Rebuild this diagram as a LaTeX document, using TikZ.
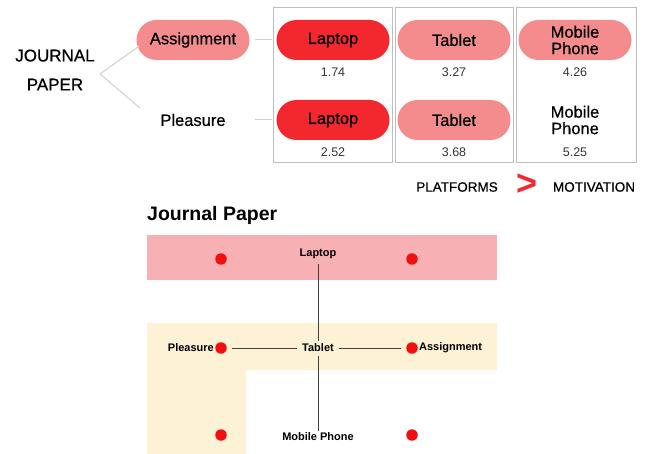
\documentclass[tikz,border=0pt]{standalone}
\usepackage{fontspec}
\setmainfont{Liberation Sans}
\newfontfamily\medfont[FakeBold=0.6]{Liberation Sans}
\definecolor{pillred}{HTML}{F2282E}
\definecolor{pillpink}{HTML}{F48C8E}
\definecolor{bandpink}{HTML}{F7B0B3}
\definecolor{bandyellow}{HTML}{FDF1D6}
\definecolor{boxgray}{HTML}{BDBDBD}
\definecolor{linegray}{HTML}{CFCFCF}
\definecolor{dotred}{HTML}{F01010}
\begin{document}
\begin{tikzpicture}[x=1pt,y=-1pt,
  pill/.style={rounded corners=20pt, minimum width=113pt, minimum height=40pt, inner sep=0pt, align=center, font=\medfont\fontsize{16.5}{16.5}\selectfont},
  strong/.style={pill, fill=pillred},
  soft/.style={pill, fill=pillpink},
  plain/.style={inner sep=0pt, align=center, font=\medfont\fontsize{16.5}{16.5}\selectfont},
  num/.style={inner sep=0pt, font=\fontsize{12.5}{14}\selectfont, text=black!80},
  col/.style={draw=boxgray, line width=1pt},
  conn/.style={draw=linegray, line width=1pt},
  lab/.style={inner sep=1pt, font=\fontsize{11}{12}\selectfont\bfseries},
  dot/.style={circle, fill=dotred, minimum size=11.5pt, inner sep=0pt},
  link/.style={draw=black!75, line width=0.7pt}]
\useasboundingbox (0,0) rectangle (648,454);
% columns
\draw[col] (273,8) rectangle (392,163);
\draw[col] (395,8) rectangle (513,163);
\draw[col] (516,8) rectangle (636,163);
% top tree
\node[plain, font=\medfont\fontsize{17}{29}\selectfont] (jp) at (55,70) {JOURNAL\\PAPER};
\node[soft] (asg) at (193,40) {Assignment};
\node[plain] (plea) at (193,120) {Pleasure};
\node[strong] (lap1) at (333,40) {Laptop};
\node[strong] (lap2) at (333,120) {Laptop};
\node[soft] (tab1) at (454,40) {Tablet};
\node[soft] (tab2) at (454,120) {Tablet};
\node[soft] (mob1) at (575,40) {Mobile\\Phone};
\node[plain] (mob2) at (575,120) {Mobile\\Phone};
\node[num] (n1) at (333,72) {1.74};
\node[num] (n2) at (333,152) {2.52};
\node[num] (n3) at (454,72) {3.27};
\node[num] (n4) at (454,152) {3.68};
\node[num] (n5) at (575,72) {4.26};
\node[num] (n6) at (575,152) {5.25};
\coordinate (fork) at (100,74);
\coordinate (pl) at (140,108);
\draw[conn] ([xshift=3pt,yshift=-6pt]asg.west) -- (fork) -- (pl);
\coordinate (a1) at (255,40);
\coordinate (a2) at (272,40);
\coordinate (p1) at (255,120);
\coordinate (p2) at (272,120);
\draw[conn] (a1) -- (a2);
\draw[conn] (p1) -- (p2);
% legend
\node[inner sep=0pt, font=\medfont\fontsize{13.5}{14}\selectfont] (plat) at (457,187) {PLATFORMS};
\node[inner sep=0pt, text=pillred, font=\fontsize{36}{36}\selectfont\bfseries] (gt) at (527,185) {>};
\node[inner sep=0pt, font=\medfont\fontsize{13.5}{14}\selectfont] (mot) at (594,187) {MOTIVATION};
% bottom
\node[anchor=west, inner sep=0pt, font=\fontsize{19.5}{20}\selectfont\bfseries] (title) at (147,215) {Journal Paper};
\fill[bandpink] (147,235) rectangle (497,280);
\fill[bandyellow] (147,323) -- (497,323) -- (497,370) -- (246,370) -- (246,454) -- (147,454) -- cycle;
\node[dot] (d1) at (221,259) {};
\node[dot] (d2) at (412,259) {};
\node[dot] (d3) at (221,348) {};
\node[dot] (d4) at (412,348) {};
\node[dot] (d5) at (221,435) {};
\node[dot] (d6) at (412,435) {};
\node[lab] (bl) at (318,254) {Laptop};
\node[lab] (bt) at (318,348) {Tablet};
\node[lab] (bm) at (318,437) {Mobile Phone};
\node[lab, anchor=east] (bp) at (d3.west) {Pleasure};
\node[lab, anchor=west] (ba) at (d4.east) {Assignment};
\draw[link] ([yshift=-4pt]bl.south) -- ([yshift=2pt]bt.north);
\draw[link] ([yshift=-3pt]bt.south) -- ([yshift=1pt]bm.north);
\draw[link] ([xshift=5pt]d3.east) -- ([xshift=-4pt]bt.west |- d3.east);
\draw[link] ([xshift=4pt]bt.east |- d4.west) -- ([xshift=-5pt]d4.west);
\end{tikzpicture}
\end{document}
